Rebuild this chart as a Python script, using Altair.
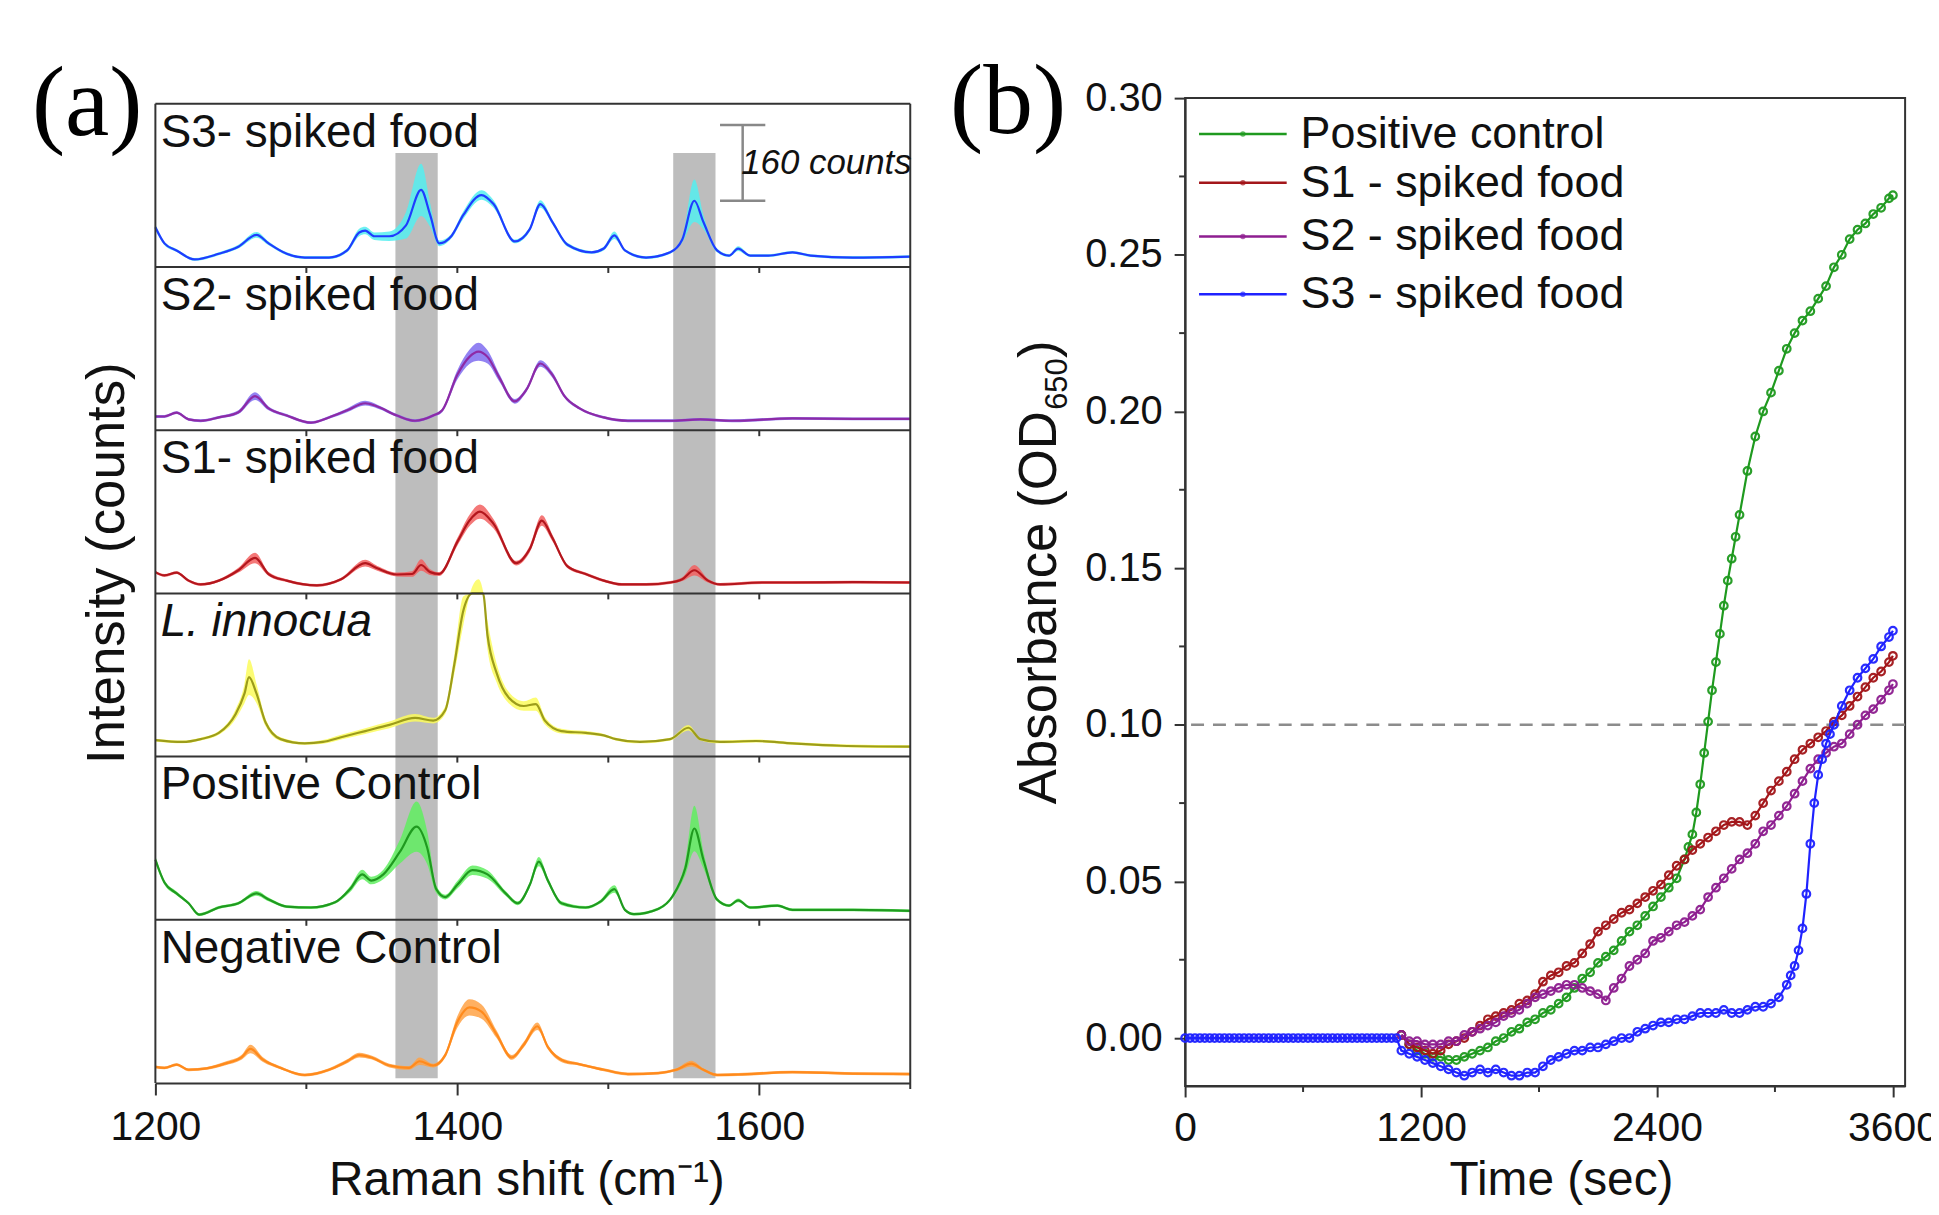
import altair as alt
import pandas as pd

FONT = "Liberation Sans"
SERIF = "Liberation Serif"
INK = "#111111"
FRAME = "#333333"

# ======================= (a) Raman spectra =======================
panel_names = ["S3- spiked food", "S2- spiked food", "S1- spiked food",
               "L. innocua", "Positive Control", "Negative Control"]
line_colors = ["#1f3cff", "#8e2aa6", "#b3161d", "#9c9c1a", "#1f9a1f", "#ff8a1c"]
band_colors = ["#55eef0", "#7f6cf0", "#f26060", "#fbfb5c", "#60ee60", "#ffa245"]

s3_shift = [1200, 1206, 1214, 1226, 1242, 1255, 1267, 1275, 1287, 1299, 1315, 1327, 1335, 1339, 1345, 1355,
            1366, 1376, 1382, 1388, 1396, 1404, 1416, 1424, 1438, 1448, 1455, 1463, 1473, 1489, 1497, 1504,
            1511, 1525, 1541, 1549, 1557, 1563, 1572, 1580, 1586, 1594, 1606, 1622, 1634, 1662, 1700]
s3_int = [84, 50, 35, 16, 28, 43, 68, 50, 28, 20, 20, 35, 73, 77, 65, 65,
          88, 163, 110, 50, 65, 110, 152, 133, 54, 80, 133, 95, 47, 31, 39, 67,
          35, 20, 31, 58, 140, 95, 35, 24, 39, 24, 24, 31, 24, 20, 22]
s3_sd = [6, 4, 3, 3, 3, 4, 6, 4, 3, 3, 3, 4, 8, 8, 8, 10,
         28, 55, 25, 6, 5, 8, 10, 8, 4, 5, 8, 5, 4, 3, 4, 8,
         3, 3, 3, 6, 45, 15, 4, 3, 5, 3, 3, 3, 3, 3, 3]

s2_shift = [1200, 1206, 1214, 1222, 1230, 1242, 1255, 1266, 1275, 1287, 1303, 1315, 1327, 1339, 1347, 1360,
            1372, 1384, 1390, 1400, 1408, 1414, 1420, 1428, 1438, 1446, 1455, 1463, 1471, 1481, 1497, 1513,
            1541, 1561, 1582, 1622, 1662, 1700]
s2_int = [29, 29, 37, 23, 20, 27, 38, 72, 46, 31, 16, 27, 42, 57, 50, 31,
          20, 31, 42, 117, 155, 166, 155, 110, 61, 87, 141, 117, 72, 46, 27, 20,
          20, 23, 20, 25, 24, 24]
s2_sd = [3, 3, 3, 3, 3, 3, 4, 8, 4, 3, 3, 3, 4, 5, 4, 3,
         3, 3, 4, 10, 15, 19, 14, 8, 5, 5, 7, 6, 4, 3, 3, 3,
         3, 3, 3, 3, 3, 3]

s1_shift = [1200, 1206, 1214, 1222, 1230, 1242, 1255, 1266, 1275, 1287, 1307, 1323, 1339, 1347, 1360, 1370,
            1376, 1382, 1388, 1400, 1408, 1415, 1424, 1439, 1448, 1456, 1463, 1473, 1485, 1497, 1509, 1525,
            1541, 1549, 1557, 1566, 1574, 1602, 1622, 1662, 1700]
s1_int = [45, 38, 44, 27, 19, 27, 49, 75, 41, 27, 17, 30, 64, 53, 40, 41,
          60, 45, 41, 109, 154, 173, 147, 64, 94, 154, 117, 57, 41, 27, 19, 19,
          23, 30, 49, 27, 19, 23, 23, 24, 23]
s1_sd = [3, 3, 3, 3, 3, 3, 5, 11, 4, 3, 3, 3, 7, 5, 4, 6,
         12, 6, 4, 8, 12, 15, 10, 5, 7, 11, 7, 4, 3, 3, 3, 3,
         3, 4, 11, 4, 3, 3, 3, 3, 3]

li_shift = [1200, 1218, 1230, 1242, 1253, 1259, 1262, 1267, 1273, 1283, 1299, 1311, 1323, 1339, 1355, 1372,
            1384, 1392, 1398, 1404, 1410, 1414, 1417, 1420, 1426, 1434, 1444, 1452, 1458, 1469, 1485, 1497,
            1505, 1521, 1541, 1553, 1561, 1574, 1598, 1622, 1654, 1700]
li_int = [35, 31, 37, 50, 89, 133, 168, 133, 72, 37, 28, 31, 41, 54, 67, 82,
          76, 98, 195, 309, 400, 415, 390, 256, 177, 125, 107, 111, 76, 54, 50, 45,
          37, 31, 37, 61, 37, 31, 33, 28, 23, 21]
li_sd = [3, 3, 3, 4, 10, 20, 38, 20, 8, 4, 3, 4, 5, 6, 7, 8,
         6, 8, 20, 30, 40, 40, 40, 30, 20, 12, 10, 14, 8, 5, 4, 3,
         3, 3, 3, 6, 3, 3, 3, 3, 3, 3]

pc_shift = [1200, 1206, 1214, 1222, 1229, 1242, 1255, 1267, 1275, 1287, 1303, 1319, 1329, 1337, 1343, 1351,
            1362, 1373, 1380, 1386, 1392, 1400, 1410, 1420, 1432, 1440, 1448, 1454, 1460, 1469, 1485, 1495,
            1504, 1511, 1517, 1533, 1543, 1551, 1557, 1563, 1572, 1580, 1586, 1594, 1612, 1622, 1662, 1700]
pc_int = [127, 79, 56, 35, 11, 26, 35, 56, 43, 28, 26, 37, 65, 96, 83, 96,
          144, 197, 153, 65, 48, 74, 105, 96, 56, 35, 74, 123, 83, 35, 26, 39,
          65, 21, 12, 23, 52, 109, 193, 127, 43, 30, 41, 26, 30, 21, 21, 19]
pc_sd = [8, 5, 4, 3, 3, 3, 3, 5, 4, 3, 3, 3, 6, 10, 8, 10,
         25, 53, 35, 8, 5, 8, 10, 9, 5, 4, 6, 10, 6, 4, 3, 4,
         8, 3, 3, 3, 5, 15, 48, 18, 4, 3, 4, 3, 3, 3, 3, 3]

nc_shift = [1200, 1206, 1214, 1222, 1234, 1246, 1257, 1263, 1271, 1283, 1299, 1315, 1327, 1335, 1343, 1355,
            1368, 1375, 1384, 1392, 1400, 1408, 1416, 1426, 1436, 1444, 1453, 1460, 1471, 1479, 1497, 1513,
            1533, 1545, 1555, 1563, 1572, 1586, 1622, 1662, 1700]
nc_int = [34, 32, 39, 28, 31, 41, 54, 72, 50, 32, 17, 28, 46, 59, 54, 37,
          32, 46, 37, 59, 129, 160, 151, 103, 54, 81, 120, 76, 46, 41, 28, 19,
          21, 28, 41, 28, 17, 18, 23, 20, 19]
nc_sd = [3, 3, 3, 3, 3, 4, 5, 9, 5, 3, 3, 3, 4, 5, 4, 4,
         4, 8, 4, 5, 12, 17, 15, 8, 5, 6, 8, 5, 4, 3, 3, 3,
         3, 3, 6, 3, 3, 3, 3, 3, 3]

shade_from = [1359, 1543]
shade_to = [1387, 1571]
inner_tick_shift = [1300, 1400, 1500, 1600]
minor_tick_shift_a = [1300, 1500, 1700]
scale_bar_counts = 160

PANEL = 345          # counts per stacked panel
A_TOP = 6 * PANEL    # top frame
A_YMAX = 2082
TICK6 = 12.6         # 6 px expressed in counts

spectra = [(s3_shift, s3_int, s3_sd), (s2_shift, s2_int, s2_sd), (s1_shift, s1_int, s1_sd),
           (li_shift, li_int, li_sd), (pc_shift, pc_int, pc_sd), (nc_shift, nc_int, nc_sd)]
rows = []
for i, (xs, ys, sds) in enumerate(spectra):
    base = (5 - i) * PANEL
    for x, y, s in zip(xs, ys, sds):
        rows.append({"series": panel_names[i], "shift": x,
                     "mid": base + min(y, PANEL),
                     "lo": base + max(y - s, 0),
                     "hi": base + min(y + s, PANEL),
                     "lc": line_colors[i], "bc": band_colors[i]})
spec_df = pd.DataFrame(rows)

xa = alt.Scale(domain=[1200, 1700], nice=False, zero=False)
ya = alt.Scale(domain=[0, A_YMAX], nice=False, zero=False)
axis_a = alt.Axis(values=[1200, 1400, 1600], format="d", title=None, grid=False, labelFlush=False,
                  tickSize=12, tickWidth=2, tickColor=FRAME, domainColor=FRAME, domainWidth=2,
                  labelFont=FONT, labelFontSize=41, labelColor=INK, labelPadding=13)


def XA(f):
    return alt.X(f, type="quantitative", scale=xa, axis=axis_a)


def YA(f):
    return alt.Y(f, type="quantitative", scale=ya, axis=None)


gray = alt.Chart(pd.DataFrame({"x1": shade_from, "x2": shade_to, "y1": [10, 10], "y2": [1966, 1966]})
                 ).mark_rect(color="#bdbdbd").encode(x=XA("x1"), x2="x2", y=YA("y1"), y2="y2")
bands = alt.Chart(spec_df).mark_area(interpolate="monotone", opacity=0.85).encode(
    x=XA("shift"), y=YA("lo"), y2="hi", color=alt.Color("bc:N", scale=None), detail="series:N")
lines = alt.Chart(spec_df).mark_line(interpolate="monotone", strokeWidth=2.2).encode(
    x=XA("shift"), y=YA("mid"), color=alt.Color("lc:N", scale=None), detail="series:N")

sep_levels = [PANEL * k for k in range(1, 7)]
hsep = alt.Chart(pd.DataFrame({"y": sep_levels, "x1": [1200] * 6, "x2": [1700] * 6})).mark_rule(
    color=FRAME, strokeWidth=2).encode(x=XA("x1"), x2="x2", y=YA("y"))
vsep = alt.Chart(pd.DataFrame({"x": [1200, 1700], "y1": [0, 0], "y2": [A_TOP, A_TOP]})).mark_rule(
    color=FRAME, strokeWidth=2).encode(x=XA("x"), y=YA("y1"), y2="y2")
tick_rows = [{"x": x, "y1": lv, "y2": lv - TICK6} for lv in sep_levels[:5] for x in inner_tick_shift]
tick_rows += [{"x": x, "y1": 0, "y2": -TICK6} for x in minor_tick_shift_a]
septicks = alt.Chart(pd.DataFrame(tick_rows)).mark_rule(color=FRAME, strokeWidth=2).encode(
    x=XA("x"), y=YA("y1"), y2="y2")

lab_df = pd.DataFrame({"name": panel_names, "x": [1203.5] * 6,
                       "y": [(6 - i) * PANEL - 90.5 for i in range(6)]})
labels_n = alt.Chart(lab_df[lab_df["name"] != "L. innocua"]).mark_text(
    align="left", baseline="alphabetic", font=FONT, fontSize=46, color=INK).encode(
    x=XA("x"), y=YA("y"), text="name:N")
labels_i = alt.Chart(lab_df[lab_df["name"] == "L. innocua"]).mark_text(
    align="left", baseline="alphabetic", font=FONT, fontSize=46, fontStyle="italic", color=INK).encode(
    x=XA("x"), y=YA("y"), text="name:N")

bar_df = pd.DataFrame({"x": [1589], "y1": [1865], "y2": [1865 + scale_bar_counts]})
bar_v = alt.Chart(bar_df).mark_rule(color="#888888", strokeWidth=2.5).encode(x=XA("x"), y=YA("y1"), y2="y2")
caps = alt.Chart(pd.DataFrame({"x1": [1574, 1574], "x2": [1604, 1604], "y": [1865, 1865 + scale_bar_counts]})
                 ).mark_rule(color="#888888", strokeWidth=2.5).encode(x=XA("x1"), x2="x2", y=YA("y"))
bar_txt = alt.Chart(pd.DataFrame({"x": [1588], "y": [1922], "t": [f"{scale_bar_counts} counts"]})).mark_text(
    align="left", baseline="alphabetic", font=FONT, fontSize=35, fontStyle="italic", color=INK).encode(
    x=XA("x"), y=YA("y"), text="t:N")

tag_a = alt.Chart(pd.DataFrame({"t": ["(a)"]})).mark_text(
    align="left", baseline="alphabetic", font=SERIF, fontSize=100, color="#000000").encode(
    text="t:N", x=alt.value(-124), y=alt.value(37))
ytitle_a = alt.Chart(pd.DataFrame({"t": ["Intensity (counts)"]})).mark_text(
    align="center", baseline="alphabetic", angle=270, font=FONT, fontSize=53, color=INK).encode(
    text="t:N", x=alt.value(-32), y=alt.value(467))
xtitle_a = alt.Chart(pd.DataFrame({"t": ["Raman shift (cm\u207b\u00b9)"]})).mark_text(
    align="center", baseline="alphabetic", font=FONT, fontSize=48, color=INK).encode(
    text="t:N", x=alt.value(373), y=alt.value(1101))

chart_a = alt.layer(gray, bands, lines, hsep, vsep, septicks, labels_n, labels_i,
                    bar_v, caps, bar_txt, tag_a, ytitle_a, xtitle_a).properties(
    width=758, height=989, view=alt.ViewBackground(strokeOpacity=0))

# ======================= (b) Absorbance kinetics =======================
kin_names = ["Positive control", "S1 - spiked food", "S2 - spiked food", "S3 - spiked food"]
kin_colors = ["#1f9a1f", "#a3161a", "#8e1e90", "#1f22ff"]

kin_time = [1100, 1140, 1180, 1220, 1260, 1300, 1340, 1380, 1420, 1460,
            1500, 1540, 1580, 1620, 1660, 1700, 1740, 1780, 1820, 1860,
            1900, 1940, 1980, 2020, 2060, 2100, 2140, 2180, 2220, 2260,
            2300, 2340, 2380, 2420, 2460, 2500, 2540, 2580, 2620, 2660,
            2700, 2740, 2780, 2820, 2860, 2900, 2940, 2980, 3020, 3060,
            3100, 3140, 3180, 3220, 3260, 3300, 3340, 3380, 3420, 3460,
            3500, 3540, 3580, 3600]

pos_time = [1100, 1140, 1180, 1220, 1260, 1300, 1340, 1380, 1420, 1460,
            1500, 1540, 1580, 1620, 1660, 1700, 1740, 1780, 1820, 1860,
            1900, 1940, 1980, 2020, 2060, 2100, 2140, 2180, 2220, 2260,
            2300, 2340, 2380, 2420, 2460, 2500, 2540, 2560, 2580, 2600,
            2620, 2640, 2660, 2680, 2700, 2720, 2740, 2760, 2780, 2800,
            2820, 2860, 2900, 2940, 2980, 3020, 3060, 3100, 3140, 3180,
            3220, 3260, 3300, 3340, 3380, 3420, 3460, 3500, 3540, 3580,
            3600]
pos_od = [0.001, -0.002, -0.004, -0.005, -0.006, -0.006, -0.007, -0.007, -0.006, -0.005,
          -0.004, -0.003, -0.001, 0.000, 0.002, 0.003, 0.005, 0.006, 0.008, 0.009,
          0.011, 0.013, 0.016, 0.019, 0.021, 0.024, 0.026, 0.028, 0.031, 0.034,
          0.036, 0.039, 0.042, 0.045, 0.048, 0.051, 0.057, 0.061, 0.065, 0.072,
          0.081, 0.091, 0.101, 0.111, 0.120, 0.129, 0.138, 0.146, 0.153, 0.160,
          0.167, 0.181, 0.192, 0.200, 0.206, 0.213, 0.220, 0.225, 0.229, 0.232,
          0.236, 0.240, 0.246, 0.250, 0.255, 0.258, 0.260, 0.263, 0.265, 0.268,
          0.269]

s1_od = [0.001, -0.002, -0.003, -0.004, -0.005, -0.004, -0.002, -0.001, 0.000, 0.002,
         0.004, 0.006, 0.007, 0.008, 0.009, 0.011, 0.012, 0.014, 0.018, 0.020,
         0.021, 0.023, 0.024, 0.027, 0.030, 0.034, 0.036, 0.038, 0.040, 0.041,
         0.043, 0.045, 0.047, 0.049, 0.052, 0.055, 0.057, 0.060, 0.062, 0.064,
         0.066, 0.068, 0.069, 0.069, 0.068, 0.071, 0.075, 0.079, 0.082, 0.085,
         0.089, 0.092, 0.094, 0.096, 0.098, 0.101, 0.103, 0.106, 0.109, 0.112,
         0.115, 0.117, 0.120, 0.122]

s2_od = [0.001, -0.001, -0.001, -0.002, -0.002, -0.002, -0.001, -0.001, 0.001, 0.002,
         0.003, 0.004, 0.005, 0.007, 0.008, 0.009, 0.011, 0.013, 0.014, 0.015,
         0.016, 0.017, 0.017, 0.016, 0.015, 0.014, 0.012, 0.016, 0.019, 0.023,
         0.025, 0.027, 0.031, 0.032, 0.034, 0.036, 0.037, 0.039, 0.041, 0.045,
         0.048, 0.051, 0.054, 0.057, 0.059, 0.062, 0.066, 0.068, 0.071, 0.074,
         0.078, 0.082, 0.086, 0.089, 0.091, 0.093, 0.094, 0.097, 0.100, 0.103,
         0.105, 0.108, 0.111, 0.113]

s3_time = [0, 25, 50, 75, 100, 125, 150, 175, 200, 225, 250, 275, 300, 325, 350, 375, 400, 425, 450, 475,
           500, 525, 550, 575, 600, 625, 650, 675, 700, 725, 750, 775, 800, 825, 850, 875, 900, 925, 950,
           975, 1000, 1025, 1050, 1075,
           1100, 1140, 1180, 1220, 1260, 1300, 1340, 1380, 1420, 1460,
           1500, 1540, 1580, 1620, 1660, 1700, 1740, 1780, 1820, 1860,
           1900, 1940, 1980, 2020, 2060, 2100, 2140, 2180, 2220, 2260,
           2300, 2340, 2380, 2420, 2460, 2500, 2540, 2580, 2620, 2660,
           2700, 2740, 2780, 2820, 2860, 2900, 2940, 2980, 3020, 3060,
           3080, 3100, 3120, 3140, 3160, 3180, 3200, 3220, 3240, 3260,
           3280, 3300, 3340, 3380, 3420, 3460, 3500, 3540, 3580, 3600]
s3_od = [0.0, 0.0, 0.0, 0.0, 0.0, 0.0, 0.0, 0.0, 0.0, 0.0, 0.0, 0.0, 0.0, 0.0, 0.0, 0.0, 0.0, 0.0, 0.0, 0.0,
         0.0, 0.0, 0.0, 0.0, 0.0, 0.0, 0.0, 0.0, 0.0, 0.0, 0.0, 0.0, 0.0, 0.0, 0.0, 0.0, 0.0, 0.0, 0.0,
         0.0, 0.0, 0.0, 0.0, 0.0,
         -0.004, -0.005, -0.006, -0.007, -0.008, -0.009, -0.010, -0.011, -0.012, -0.011,
         -0.010, -0.011, -0.010, -0.011, -0.012, -0.012, -0.011, -0.011, -0.009, -0.007,
         -0.006, -0.005, -0.004, -0.004, -0.003, -0.003, -0.002, -0.001, 0.000, 0.000,
         0.002, 0.003, 0.004, 0.005, 0.005, 0.006, 0.006, 0.007, 0.008, 0.008,
         0.008, 0.009, 0.008, 0.008, 0.009, 0.010, 0.010, 0.011, 0.013, 0.017,
         0.020, 0.023, 0.028, 0.035, 0.046, 0.062, 0.075, 0.084, 0.089, 0.094,
         0.097, 0.100, 0.106, 0.111, 0.115, 0.118, 0.121, 0.125, 0.128, 0.130]

threshold_od = 0.10
minor_time = [600, 1800, 3000]
minor_od = [0.025, 0.075, 0.125, 0.175, 0.225, 0.275]

kin_series = [(pos_time, pos_od), (kin_time, s1_od), (kin_time, s2_od), (s3_time, s3_od)]

B_XMAX = 3662
B_YMIN = -0.0153
xb = alt.Scale(domain=[0, B_XMAX], nice=False, zero=False)
yb = alt.Scale(domain=[B_YMIN, 0.30], nice=False, zero=False)
axis_bx = alt.Axis(values=[0, 1200, 2400, 3600], format="d", title=None, grid=False, labelFlush=False,
                   tickSize=11, tickWidth=2, tickColor=FRAME, domainColor=FRAME, domainWidth=2,
                   labelFont=FONT, labelFontSize=41, labelColor=INK, labelPadding=12)
axis_by = alt.Axis(values=[0, 0.05, 0.10, 0.15, 0.20, 0.25, 0.30], format=".2f", title=None, grid=False,
                   labelFlush=False,
                   tickSize=11, tickWidth=2, tickColor=FRAME, domainColor=FRAME, domainWidth=2,
                   labelFont=FONT, labelFontSize=40, labelColor=INK, labelPadding=12)


def XB(f):
    return alt.X(f, type="quantitative", scale=xb, axis=axis_bx)


def YB(f):
    return alt.Y(f, type="quantitative", scale=yb, axis=axis_by)


layers_b = []
layers_b.append(alt.Chart(pd.DataFrame({"v": [threshold_od]})).mark_rule(
    color="#8c8c8c", strokeWidth=2.5, strokeDash=[13, 9]).encode(y=YB("v")))

for name, col, (ts, vs) in zip(kin_names, kin_colors, kin_series):
    df = pd.DataFrame({"t": ts, "v": vs})
    layers_b.append(alt.Chart(df).mark_line(color=col, strokeWidth=2.2).encode(x=XB("t"), y=YB("v")))
    layers_b.append(alt.Chart(df).mark_point(color=col, filled=False, size=58, strokeWidth=2.2,
                                             opacity=0.95).encode(x=XB("t"), y=YB("v")))

tick6_t = 6 / 0.1975
tick6_v = 6 / 3146
mx = pd.DataFrame({"t": minor_time, "y1": [B_YMIN] * 3, "y2": [B_YMIN - tick6_v] * 3})
layers_b.append(alt.Chart(mx).mark_rule(color=FRAME, strokeWidth=2).encode(x=XB("t"), y=YB("y1"), y2="y2"))
my = pd.DataFrame({"v": minor_od, "x1": [0] * 6, "x2": [-tick6_t] * 6})
layers_b.append(alt.Chart(my).mark_rule(color=FRAME, strokeWidth=2).encode(y=YB("v"), x=XB("x1"), x2="x2"))

legend_y = [36, 85, 139, 197]
for name, col, ly in zip(kin_names, kin_colors, legend_y):
    ldf = pd.DataFrame({"n": [name]})
    layers_b.append(alt.Chart(ldf).mark_rule(color=col, strokeWidth=2.5).encode(
        x=alt.value(14), x2=alt.value(102), y=alt.value(ly)))
    layers_b.append(alt.Chart(ldf).mark_point(color=col, filled=True, size=30).encode(
        x=alt.value(58), y=alt.value(ly)))
    layers_b.append(alt.Chart(ldf).mark_text(align="left", baseline="middle", font=FONT, fontSize=45,
                                             color=INK).encode(text="n:N", x=alt.value(116), y=alt.value(ly)))

layers_b.append(alt.Chart(pd.DataFrame({"t": ["(b)"]})).mark_text(
    align="left", baseline="alphabetic", font=SERIF, fontSize=100, color="#000000").encode(
    text="t:N", x=alt.value(-236), y=alt.value(35)))
layers_b.append(alt.Chart(pd.DataFrame({"t": ["Absorbance (OD"]})).mark_text(
    align="left", baseline="alphabetic", angle=270, font=FONT, fontSize=53, color=INK).encode(
    text="t:N", x=alt.value(-130), y=alt.value(709)))
layers_b.append(alt.Chart(pd.DataFrame({"t": ["650"]})).mark_text(
    align="left", baseline="alphabetic", angle=270, font=FONT, fontSize=31, color=INK).encode(
    text="t:N", x=alt.value(-119), y=alt.value(313)))
layers_b.append(alt.Chart(pd.DataFrame({"t": [")"]})).mark_text(
    align="left", baseline="alphabetic", angle=270, font=FONT, fontSize=53, color=INK).encode(
    text="t:N", x=alt.value(-130), y=alt.value(261)))
layers_b.append(alt.Chart(pd.DataFrame({"t": ["Time (sec)"]})).mark_text(
    align="center", baseline="alphabetic", font=FONT, fontSize=48, color=INK).encode(
    text="t:N", x=alt.value(378), y=alt.value(1101)))

chart_b = alt.layer(*layers_b).properties(
    width=723, height=992, view=alt.ViewBackground(stroke=FRAME, strokeWidth=2))

# fixed-size canvas: panel (a) plot origin at page (156, 96), whole figure fills 1931 x 1199
chart = alt.hconcat(chart_a, chart_b, spacing=276, bounds="flush").properties(
    autosize=alt.AutoSizeParams(type="none"),
    padding={"left": 148, "top": 88, "right": 1783, "bottom": 1111})

chart.save("out.html", embed_options={"renderer": "svg", "actions": False})
